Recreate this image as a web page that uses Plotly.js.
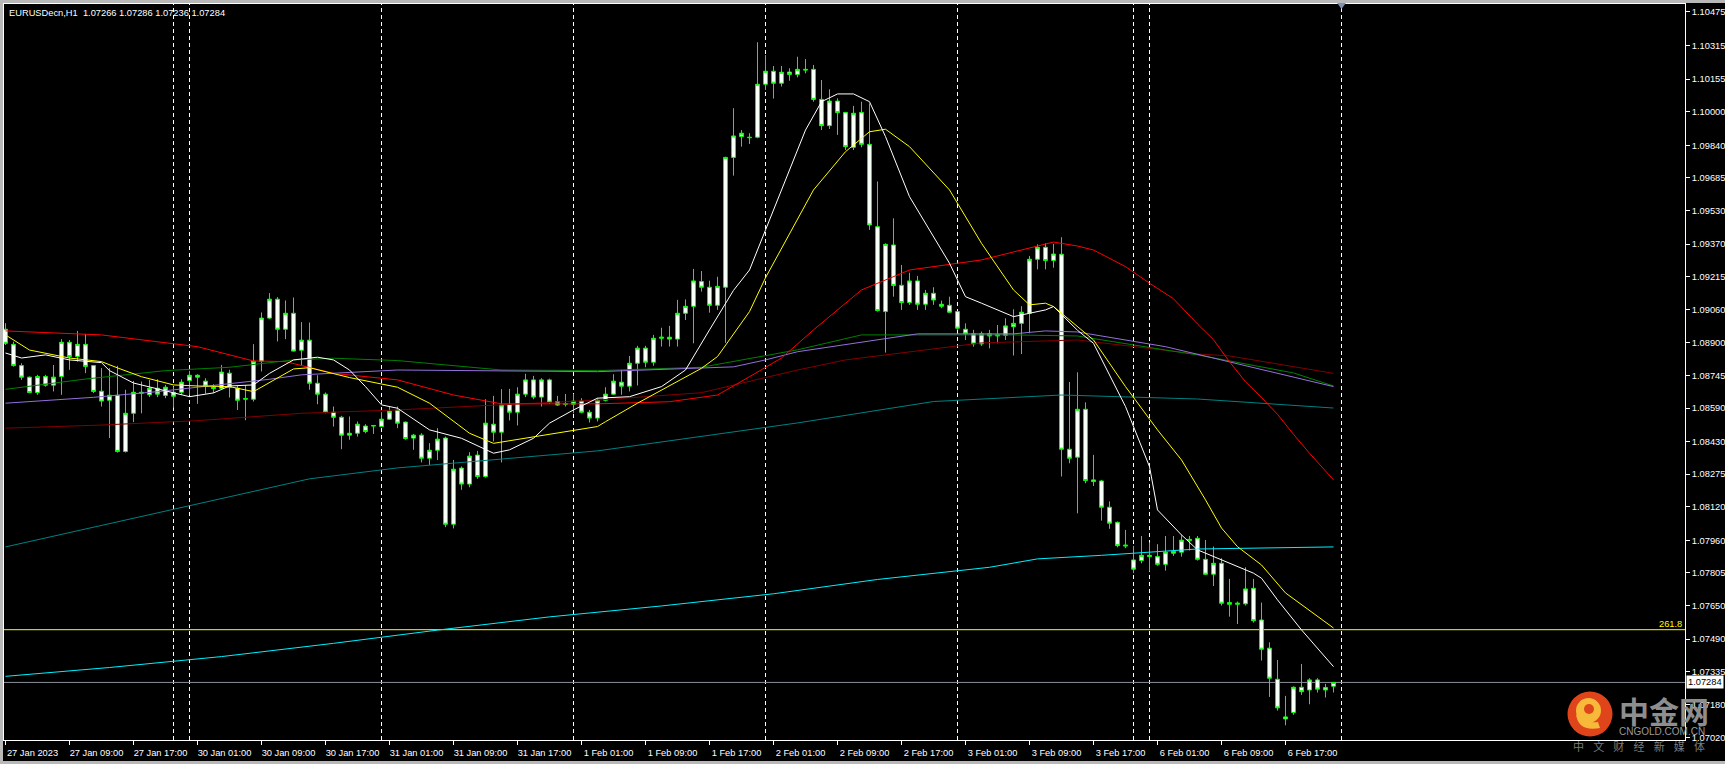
<!DOCTYPE html>
<html><head><meta charset="utf-8">
<script src="https://cdn.plot.ly/plotly-3.0.1.min.js"></script>
<style>html,body{margin:0;padding:0;background:#000;overflow:hidden}#chart{width:1725px;height:764px}</style>
</head><body><div id="chart"></div>
<script>
// ---- OHLC, EURUSDecn H1, 27 Jan 2023 01:00 .. 6 Feb 2023 23:00 (bar index 0..166)
const open = [1.08965,1.08893,1.08792,1.08737,1.08664,1.08740,1.08699,1.08740,1.08903,1.08835,
1.08893,1.08792,1.08670,1.08627,1.08651,1.08383,1.08565,1.08665,1.08653,1.08684,
1.08650,1.08665,1.08665,1.08721,1.08746,1.08718,1.08689,1.08684,1.08756,1.08684,
1.08632,1.08632,1.08813,1.09018,1.09108,1.08965,1.09041,1.08865,1.08913,1.08708,
1.08656,1.08570,1.08546,1.08461,1.08470,1.08504,1.08504,1.08502,1.08537,1.08580,
1.08523,1.08447,1.08461,1.08351,1.08389,1.08447,1.08037,1.08304,1.08228,1.08366,
1.08264,1.08513,1.08475,1.08608,1.08570,1.08656,1.08724,1.08642,1.08724,1.08621,
1.08608,1.08608,1.08623,1.08570,1.08542,1.08627,1.08656,1.08713,1.08694,1.08803,
1.08875,1.08808,1.08922,1.08927,1.08918,1.09041,1.09074,1.09192,1.09165,1.09079,
1.09165,1.09783,1.09882,1.09879,1.09879,1.10131,1.10193,1.10136,1.10189,1.10178,
1.10202,1.10202,1.10059,1.09934,1.10051,1.09997,1.09831,1.09997,1.09845,1.09453,
1.09049,1.09366,1.09174,1.09092,1.09195,1.09084,1.09136,1.09084,1.09079,1.09049,
1.08965,1.08943,1.08895,1.08943,1.08933,1.08936,1.08977,1.08993,1.09041,1.09298,
1.09355,1.09292,1.09322,1.08394,1.08356,1.08584,1.08248,1.08243,1.08118,1.08046,
1.07938,1.07867,1.07864,1.07889,1.07883,1.07846,1.07899,1.07904,1.07959,1.07970,
1.07870,1.07799,1.07851,1.07664,1.07656,1.07658,1.07732,1.07581,1.07447,1.07299,
1.07120,1.07141,1.07261,1.07248,1.07296,1.07260,1.07266];
const high = [1.08994,1.08906,1.08803,1.08740,1.08748,1.08748,1.08795,1.08918,1.08914,1.08957,
1.08943,1.08795,1.08780,1.08780,1.08791,1.08677,1.08719,1.08716,1.08724,1.08727,
1.08700,1.08692,1.08727,1.08767,1.08751,1.08732,1.08703,1.08795,1.08772,1.08696,
1.08699,1.08894,1.09045,1.09137,1.09118,1.09102,1.09116,1.08999,1.08997,1.08746,
1.08664,1.08597,1.08553,1.08550,1.08526,1.08513,1.08507,1.08570,1.08597,1.08597,
1.08526,1.08467,1.08470,1.08423,1.08494,1.08454,1.08343,1.08312,1.08380,1.08386,
1.08632,1.08648,1.08680,1.08681,1.08689,1.08753,1.08743,1.08732,1.08730,1.08648,
1.08657,1.08657,1.08637,1.08581,1.08637,1.08689,1.08751,1.08772,1.08838,1.08886,
1.08886,1.08938,1.08972,1.08981,1.09105,1.09107,1.09252,1.09242,1.09196,1.09215,
1.09786,1.10017,1.09913,1.09898,1.10331,1.10270,1.10218,1.10218,1.10207,1.10262,
1.10251,1.10223,1.10151,1.10107,1.10064,1.09997,1.10028,1.10048,1.10040,1.09668,
1.09374,1.09493,1.09271,1.09234,1.09219,1.09152,1.09165,1.09101,1.09120,1.09049,
1.08993,1.08962,1.08954,1.08962,1.08985,1.09017,1.09060,1.09075,1.09314,1.09369,
1.09374,1.09371,1.09403,1.08714,1.08760,1.08617,1.08367,1.08248,1.08146,1.08050,
1.08010,1.07934,1.07981,1.07950,1.07942,1.07981,1.07981,1.07986,1.07981,1.07981,
1.07962,1.07931,1.07875,1.07777,1.07669,1.07832,1.07777,1.07664,1.07475,1.07391,
1.07220,1.07265,1.07372,1.07304,1.07304,1.07277,1.07286];
const low = [1.08890,1.08787,1.08724,1.08661,1.08653,1.08692,1.08669,1.08653,1.08772,1.08811,
1.08756,1.08661,1.08597,1.08447,1.08378,1.08378,1.08523,1.08565,1.08642,1.08642,
1.08637,1.08592,1.08653,1.08653,1.08610,1.08658,1.08661,1.08680,1.08640,1.08581,
1.08532,1.08621,1.08764,1.09013,1.08907,1.08918,1.08859,1.08795,1.08677,1.08608,
1.08565,1.08502,1.08394,1.08439,1.08454,1.08470,1.08467,1.08502,1.08534,1.08494,
1.08439,1.08391,1.08331,1.08318,1.08342,1.08023,1.08017,1.08201,1.08213,1.08253,
1.08259,1.08431,1.08331,1.08531,1.08507,1.08642,1.08632,1.08597,1.08610,1.08600,
1.08597,1.08565,1.08565,1.08521,1.08526,1.08621,1.08653,1.08653,1.08669,1.08697,
1.08784,1.08791,1.08883,1.08883,1.08883,1.09009,1.08898,1.09144,1.09044,1.09057,
1.08900,1.09696,1.09834,1.09847,1.09874,1.10104,1.10063,1.10120,1.10148,1.10164,
1.10183,1.10048,1.09913,1.09918,1.09890,1.09818,1.09818,1.09831,1.09438,1.09049,
1.08854,1.09120,1.09057,1.09081,1.09057,1.09057,1.09081,1.09065,1.09044,1.08962,
1.08914,1.08882,1.08886,1.08874,1.08898,1.08914,1.08840,1.08847,1.08946,1.09250,
1.09250,1.09258,1.08264,1.08327,1.08089,1.08232,1.08219,1.08054,1.08015,1.07927,
1.07923,1.07804,1.07851,1.07812,1.07839,1.07816,1.07886,1.07883,1.07912,1.07864,
1.07796,1.07743,1.07650,1.07597,1.07562,1.07650,1.07569,1.07388,1.07215,1.07150,
1.07080,1.07130,1.07225,1.07180,1.07236,1.07212,1.07236];
const close = [1.08898,1.08792,1.08737,1.08664,1.08740,1.08699,1.08737,1.08903,1.08835,1.08893,
1.08788,1.08669,1.08623,1.08651,1.08383,1.08565,1.08665,1.08661,1.08684,1.08656,
1.08689,1.08646,1.08713,1.08746,1.08737,1.08694,1.08683,1.08761,1.08689,1.08627,
1.08635,1.08813,1.09018,1.09108,1.08965,1.09041,1.08861,1.08913,1.08708,1.08656,
1.08570,1.08546,1.08461,1.08470,1.08513,1.08478,1.08507,1.08537,1.08575,1.08518,
1.08445,1.08461,1.08351,1.08389,1.08442,1.08037,1.08299,1.08228,1.08361,1.08264,
1.08518,1.08475,1.08604,1.08570,1.08656,1.08724,1.08642,1.08724,1.08618,1.08604,
1.08611,1.08623,1.08570,1.08542,1.08627,1.08656,1.08718,1.08694,1.08803,1.08875,
1.08808,1.08922,1.08927,1.08918,1.09041,1.09074,1.09195,1.09165,1.09079,1.09169,
1.09783,1.09885,1.09898,1.09877,1.10131,1.10193,1.10136,1.10188,1.10178,1.10202,
1.10199,1.10059,1.09934,1.10051,1.09996,1.09834,1.09993,1.09845,1.09461,1.09054,
1.09369,1.09173,1.09092,1.09195,1.09084,1.09136,1.09104,1.09074,1.09046,1.08970,
1.08943,1.08895,1.08943,1.08933,1.08940,1.08981,1.08993,1.09046,1.09298,1.09355,
1.09292,1.09323,1.08394,1.08351,1.08584,1.08245,1.08240,1.08118,1.08042,1.07935,
1.07934,1.07823,1.07889,1.07883,1.07846,1.07904,1.07907,1.07961,1.07965,1.07870,
1.07799,1.07851,1.07661,1.07656,1.07661,1.07729,1.07578,1.07442,1.07304,1.07163,
1.07110,1.07261,1.07240,1.07296,1.07252,1.07248,1.07284];

// ---- moving-average lines (bar index, price)
const whiteX = [0,2,5,8,12,13,16,21,23,26,28,31,33,36,39,41,43,45,47,49,53,57,61,63,66,68,71,74,78,82,85,88,91,93,97,100,102,104,106,108,110,113,118,120,122,126,130,131,134,136,140,143,144,147,149,153,156,157,159,162,166];
const whiteY = [1.08852,1.08828,1.08843,1.08819,1.08806,1.08768,1.08709,1.08662,1.08644,1.08662,1.08695,1.08700,1.08755,1.08819,1.08832,1.08819,1.08771,1.08692,1.08605,1.08589,1.08486,1.08446,1.08375,1.08391,1.08446,1.08518,1.08581,1.08637,1.08644,1.08692,1.08771,1.08962,1.09150,1.09247,1.09628,1.09913,1.10048,1.10085,1.10085,1.10048,1.09882,1.09596,1.09279,1.09120,1.09089,1.09025,1.09057,1.09073,1.08960,1.08898,1.08597,1.08311,1.08105,1.07986,1.07915,1.07851,1.07804,1.07780,1.07677,1.07534,1.07359];
const yellowX = [0,3,8,12,14,17,21,24,28,31,36,38,43,49,53,58,61,66,74,75,79,87,89,93,95,101,105,108,110,113,118,122,126,128,130,131,134,136,140,144,147,150,152,154,157,160,166];
const yellowY = [1.08938,1.08866,1.08828,1.08811,1.08781,1.08739,1.08700,1.08695,1.08692,1.08668,1.08776,1.08782,1.08735,1.08689,1.08613,1.08470,1.08422,1.08454,1.08502,1.08525,1.08613,1.08779,1.08835,1.09049,1.09210,1.09628,1.09810,1.09905,1.09917,1.09834,1.09628,1.09374,1.09152,1.09081,1.09089,1.09073,1.08977,1.08914,1.08692,1.08486,1.08343,1.08153,1.08019,1.07930,1.07843,1.07710,1.07543];
const redX = [0,12,24,31,35,41,49,56,62,74,83,89,93,97,101,107,113,122,131,134,136,140,143,146,149,151,153,155,157,159,161,163,166];
const redY = [1.08957,1.08938,1.08882,1.08814,1.08811,1.08755,1.08724,1.08652,1.08610,1.08610,1.08620,1.08652,1.08739,1.08828,1.08962,1.09152,1.09247,1.09295,1.09380,1.09361,1.09342,1.09263,1.09184,1.09110,1.08990,1.08915,1.08810,1.08715,1.08640,1.08560,1.08465,1.08375,1.08248];
const maroonX = [0,12,24,37,49,74,87,99,105,122,134,149,153,166];
const maroonY = [1.08494,1.08509,1.08530,1.08565,1.08581,1.08628,1.08663,1.08771,1.08819,1.08900,1.08914,1.08847,1.08838,1.08755];
const greenX = [0,10,20,28,36,41,49,62,74,87,99,107,126,134,145,149,161,166];
const greenY = [1.08679,1.08728,1.08768,1.08784,1.08819,1.08827,1.08816,1.08771,1.08768,1.08784,1.08867,1.08938,1.08938,1.08933,1.08866,1.08843,1.08757,1.08695];
const purpleX = [0,11,19,26,33,37,49,74,91,95,99,114,126,130,134,145,153,166];
const purpleY = [1.08613,1.08641,1.08668,1.08698,1.08727,1.08748,1.08771,1.08763,1.08786,1.08819,1.08858,1.08943,1.08943,1.08957,1.08952,1.08882,1.08811,1.08692];
const tealX = [0,19,38,49,74,99,116,132,149,166];
const tealY = [1.07929,1.08091,1.08253,1.08305,1.08386,1.08519,1.08621,1.08652,1.08633,1.08590];
const cyanX = [0,13,27,41,54,68,82,96,109,123,129,137,149,157,166];
const cyanY = [1.07313,1.07355,1.07407,1.07470,1.07533,1.07596,1.07648,1.07706,1.07774,1.07832,1.07872,1.07889,1.07919,1.07924,1.07929];

// ---- axis labels
const xTickBars = [0,8,16,24,32,40,48,56,64,72,80,88,96,104,112,120,128,136,144,152,160];
const xTickLabels = ['27 Jan 2023','27 Jan 09:00','27 Jan 17:00','30 Jan 01:00','30 Jan 09:00','30 Jan 17:00','31 Jan 01:00','31 Jan 09:00','31 Jan 17:00','1 Feb 01:00','1 Feb 09:00','1 Feb 17:00','2 Feb 01:00','2 Feb 09:00','2 Feb 17:00','3 Feb 01:00','3 Feb 09:00','3 Feb 17:00','6 Feb 01:00','6 Feb 09:00','6 Feb 17:00'];
const yTickValues = [1.10475,1.10315,1.10155,1.10000,1.09840,1.09685,1.09530,1.09370,1.09215,1.09060,1.08900,1.08745,1.08590,1.08430,1.08275,1.08120,1.07960,1.07805,1.07650,1.07490,1.07335,1.07180,1.07020];
const separatorBars = [21,23,47,71,95,119,141,143,167];
const fiboLevel = 1.07535, fiboLabel = '261.8';
const bidPrice = 1.07284;
const titleText = 'EURUSDecn,H1\u00a0 1.07266 1.07286 1.07236 1.07284';

// ---- build
const bars = open.map((_, i) => i);
const W = 1725, H = 764, M = {l:4, r:40, t:4, b:24};
const PW = W - M.l - M.r, PH = H - M.t - M.b;
const px = x => (x - M.l) / PW;          // pixel -> paper x
const py = y => (H - M.b - y) / PH;      // pixel -> paper y
const FONT = 'Liberation Sans, Arial, sans-serif';

const candleStyle = {line:{color:'#00ff00', width:1}, fillcolor:'#ffffff'};
const traces = [{
  type:'candlestick', x:bars, open:open, high:high, low:low, close:close,
  increasing:candleStyle, decreasing:candleStyle, whiskerwidth:0, hoverinfo:'skip'
}];
function ma(x, y, color){ traces.push({type:'scatter', mode:'lines', x:x, y:y, line:{color:color, width:1}, hoverinfo:'skip'}); }
ma(cyanX, cyanY, '#00f0ff');
ma(tealX, tealY, '#008080');
ma(maroonX, maroonY, '#800000');
ma(greenX, greenY, '#008000');
ma(purpleX, purpleY, '#9370db');
ma(redX, redY, '#ff0000');
ma(yellowX, yellowY, '#ffff00');
ma(whiteX, whiteY, '#ffffff');

const shapes = [];
separatorBars.forEach(b => shapes.push({type:'line', layer:'below', xref:'x', yref:'paper', x0:b, x1:b, y0:0, y1:1, line:{color:'#ffffff', width:1, dash:'4px,3px'}}));
shapes.push({type:'line', layer:'below', xref:'paper', yref:'y', x0:0, x1:1, y0:fiboLevel, y1:fiboLevel, line:{color:'#ffff00', width:1}});
shapes.push({type:'line', layer:'below', xref:'paper', yref:'y', x0:0, x1:1, y0:bidPrice, y1:bidPrice, line:{color:'#8a8f99', width:1}});
// window frame bands
shapes.push({type:'rect', xref:'paper', yref:'paper', x0:px(0), x1:px(1725), y0:py(3), y1:py(0), line:{width:0}, fillcolor:'#b8b8b8'});
shapes.push({type:'rect', xref:'paper', yref:'paper', x0:px(0), x1:px(3), y0:py(764), y1:py(0), line:{width:0}, fillcolor:'#b8b8b8'});
shapes.push({type:'rect', xref:'paper', yref:'paper', x0:px(0), x1:px(1725), y0:py(764), y1:py(761), line:{width:0}, fillcolor:'#b8b8b8'});
// chart-shift marker
shapes.push({type:'path', xref:'x', yref:'paper', path:'M 166.45 '+py(3)+' L 167.55 '+py(3)+' L 167 '+py(9)+' Z', fillcolor:'#8090b0', line:{width:0}});
// logo
shapes.push({type:'circle', xref:'paper', yref:'paper', x0:px(1567.5), x1:px(1612.5), y0:py(736.5), y1:py(691.5), fillcolor:'#e0441b', line:{width:0}});
shapes.push({type:'circle', xref:'paper', yref:'paper', x0:px(1576), x1:px(1601), y0:py(723), y1:py(698), fillcolor:'#f7b93a', line:{width:0}});
shapes.push({type:'circle', xref:'paper', yref:'paper', x0:px(1584), x1:px(1594), y0:py(714), y1:py(704), fillcolor:'#e0441b', line:{width:0}});
shapes.push({type:'path', xref:'paper', yref:'paper', path:'M '+px(1576)+' '+py(714)+' Q '+px(1578)+' '+py(732)+' '+px(1600)+' '+py(728)+' L '+px(1598)+' '+py(722)+' Q '+px(1584)+' '+py(724)+' '+px(1576)+' '+py(714)+' Z', fillcolor:'#f7b93a', line:{width:0}});

const annotations = [
  {xref:'paper', yref:'y', x:1, y:fiboLevel, xanchor:'right', yanchor:'bottom', xshift:-1, yshift:-1, text:fiboLabel, showarrow:false, font:{family:FONT, size:9.3, color:'#ffff00'}},
  {xref:'paper', yref:'y', x:1, y:bidPrice, xanchor:'left', yanchor:'middle', xshift:1, text:'1.07284', showarrow:false, bgcolor:'#ffffff', borderpad:1, font:{family:FONT, size:9.3, color:'#000000'}},
  {xref:'paper', yref:'paper', x:px(1617), y:py(710), xanchor:'left', yanchor:'middle', text:'<b>中金网</b>', showarrow:false, font:{family:'Noto Sans CJK SC', size:30, color:'#8e8e8e'}},
  {xref:'paper', yref:'paper', x:px(1617), y:py(731), xanchor:'left', yanchor:'middle', text:'CNGOLD.COM.CN', showarrow:false, font:{family:FONT, size:10, color:'#9a9a9a'}},
  {xref:'paper', yref:'paper', x:px(1571), y:py(746), xanchor:'left', yanchor:'middle', text:'中\u2002\u2004文\u2002\u2004财\u2002\u2004经\u2002\u2004新\u2002\u2004媒\u2002\u2004体', showarrow:false, font:{family:'Noto Sans CJK SC', size:11, color:'#7c7c7c'}}
];

const layout = {
  width:W, height:H, margin:M, paper_bgcolor:'#000000', plot_bgcolor:'#000000', showlegend:false,
  title:{text:titleText, x:9/W, xanchor:'left', y:1-12.5/H, yanchor:'middle', font:{family:FONT, size:9.3, color:'#ffffff'}},
  xaxis:{range:[(M.l-5.5)/8, (W-M.r-5.5)/8], tickmode:'array', tickvals:xTickBars, ticktext:xTickLabels,
    ticks:'outside', ticklen:4, tickcolor:'#ffffff', ticklabelshift:27,
    tickfont:{family:FONT, size:9.3, color:'#ffffff'}, showgrid:false, zeroline:false,
    showline:true, linecolor:'#ffffff', linewidth:1, mirror:true, rangeslider:{visible:false}, fixedrange:true},
  yaxis:{side:'right', range:[1.07010, 1.10513], tickmode:'array', tickvals:yTickValues, ticktext:yTickValues.map(v => v.toFixed(5)),
    ticks:'outside', ticklen:4, tickcolor:'#ffffff', tickfont:{family:FONT, size:9.3, color:'#ffffff'},
    showgrid:false, zeroline:false, showline:true, linecolor:'#ffffff', linewidth:1, mirror:true, fixedrange:true},
  shapes:shapes, annotations:annotations, hovermode:false
};
Plotly.newPlot('chart', traces, layout, {staticPlot:true, displayModeBar:false});
</script></body></html>
